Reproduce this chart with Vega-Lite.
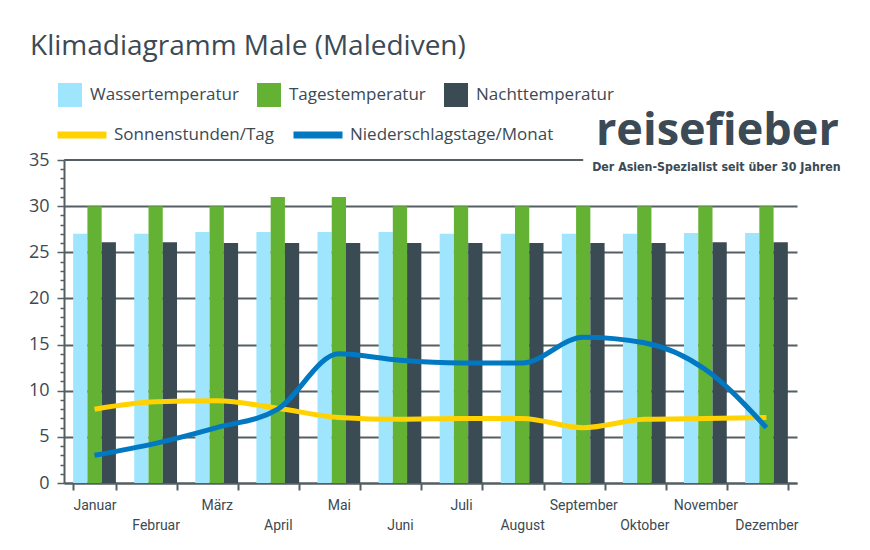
{
  "$schema": "https://vega.github.io/schema/vega-lite/v6.json",
  "width": 733,
  "height": 323,
  "autosize": "none",
  "padding": {"left": 64, "top": 160, "right": 73, "bottom": 67},
  "background": "white",
  "title": {
    "text": "Klimadiagramm Male (Malediven)",
    "anchor": "start",
    "frame": "group",
    "dx": -34,
    "dy": -18,
    "fontSize": 28,
    "font": "Open Sans",
    "fontWeight": "normal",
    "color": "#3b4a54"
  },
  "config": {"view": {"stroke": null}},
  "datasets": {
    "bars": [
      {"month": "Januar", "series": "Wassertemperatur", "value": 27},
      {"month": "Februar", "series": "Wassertemperatur", "value": 27},
      {"month": "März", "series": "Wassertemperatur", "value": 27.2},
      {"month": "April", "series": "Wassertemperatur", "value": 27.2},
      {"month": "Mai", "series": "Wassertemperatur", "value": 27.2},
      {"month": "Juni", "series": "Wassertemperatur", "value": 27.2},
      {"month": "Juli", "series": "Wassertemperatur", "value": 27},
      {"month": "August", "series": "Wassertemperatur", "value": 27},
      {"month": "September", "series": "Wassertemperatur", "value": 27},
      {"month": "Oktober", "series": "Wassertemperatur", "value": 27},
      {"month": "November", "series": "Wassertemperatur", "value": 27.1},
      {"month": "Dezember", "series": "Wassertemperatur", "value": 27.1},
      {"month": "Januar", "series": "Tagestemperatur", "value": 30},
      {"month": "Februar", "series": "Tagestemperatur", "value": 30},
      {"month": "März", "series": "Tagestemperatur", "value": 30},
      {"month": "April", "series": "Tagestemperatur", "value": 31},
      {"month": "Mai", "series": "Tagestemperatur", "value": 31},
      {"month": "Juni", "series": "Tagestemperatur", "value": 30},
      {"month": "Juli", "series": "Tagestemperatur", "value": 30},
      {"month": "August", "series": "Tagestemperatur", "value": 30},
      {"month": "September", "series": "Tagestemperatur", "value": 30},
      {"month": "Oktober", "series": "Tagestemperatur", "value": 30},
      {"month": "November", "series": "Tagestemperatur", "value": 30},
      {"month": "Dezember", "series": "Tagestemperatur", "value": 30},
      {"month": "Januar", "series": "Nachttemperatur", "value": 26.1},
      {"month": "Februar", "series": "Nachttemperatur", "value": 26.1},
      {"month": "März", "series": "Nachttemperatur", "value": 26},
      {"month": "April", "series": "Nachttemperatur", "value": 26},
      {"month": "Mai", "series": "Nachttemperatur", "value": 26},
      {"month": "Juni", "series": "Nachttemperatur", "value": 26},
      {"month": "Juli", "series": "Nachttemperatur", "value": 26},
      {"month": "August", "series": "Nachttemperatur", "value": 26},
      {"month": "September", "series": "Nachttemperatur", "value": 26},
      {"month": "Oktober", "series": "Nachttemperatur", "value": 26},
      {"month": "November", "series": "Nachttemperatur", "value": 26.1},
      {"month": "Dezember", "series": "Nachttemperatur", "value": 26.1}
    ],
    "lines": [
      {"month": "Januar", "series": "Sonnenstunden/Tag", "value": 8},
      {"month": "Februar", "series": "Sonnenstunden/Tag", "value": 8.8},
      {"month": "März", "series": "Sonnenstunden/Tag", "value": 8.9},
      {"month": "April", "series": "Sonnenstunden/Tag", "value": 8.1},
      {"month": "Mai", "series": "Sonnenstunden/Tag", "value": 7.1},
      {"month": "Juni", "series": "Sonnenstunden/Tag", "value": 6.9},
      {"month": "Juli", "series": "Sonnenstunden/Tag", "value": 7},
      {"month": "August", "series": "Sonnenstunden/Tag", "value": 7},
      {"month": "September", "series": "Sonnenstunden/Tag", "value": 6},
      {"month": "Oktober", "series": "Sonnenstunden/Tag", "value": 6.9},
      {"month": "November", "series": "Sonnenstunden/Tag", "value": 7},
      {"month": "Dezember", "series": "Sonnenstunden/Tag", "value": 7.1},
      {"month": "Januar", "series": "Niederschlagstage/Monat", "value": 3},
      {"month": "Februar", "series": "Niederschlagstage/Monat", "value": 4.3},
      {"month": "März", "series": "Niederschlagstage/Monat", "value": 6},
      {"month": "April", "series": "Niederschlagstage/Monat", "value": 8},
      {"month": "Mai", "series": "Niederschlagstage/Monat", "value": 14},
      {"month": "Juni", "series": "Niederschlagstage/Monat", "value": 13.3},
      {"month": "Juli", "series": "Niederschlagstage/Monat", "value": 13},
      {"month": "August", "series": "Niederschlagstage/Monat", "value": 13},
      {"month": "September", "series": "Niederschlagstage/Monat", "value": 15.8},
      {"month": "Oktober", "series": "Niederschlagstage/Monat", "value": 15.2},
      {"month": "November", "series": "Niederschlagstage/Monat", "value": 12.3},
      {"month": "Dezember", "series": "Niederschlagstage/Monat", "value": 6}
    ]
  },
  "encoding": {
    "x": {
      "field": "month",
      "type": "nominal",
      "sort": null,
      "scale": {"domain": ["Januar","Februar","März","April","Mai","Juni","Juli","August","September","Oktober","November","Dezember"], "paddingInner": 0.3, "paddingOuter": 0.15},
      "axis": {
        "title": null,
        "labelAngle": 0,
        "domainColor": "#555e63",
        "domainWidth": 2,
        "tickBand": "extent",
        "tickColor": "#555e63",
        "tickWidth": 2,
        "tickSize": 7,
        "labelFont": "Roboto",
        "labelFontSize": 14,
        "labelColor": "#3b4a54",
        "labelBaseline": "top",
        "labelOverlap": false,
        "labelPadding": {"condition": {"test": "indexof(['Februar','April','Juni','August','Oktober','Dezember'], datum.value) >= 0", "value": 28}, "value": 8}
      }
    },
    "y": {
      "field": "value",
      "type": "quantitative",
      "scale": {"domain": [0, 35], "nice": false, "zero": true},
      "axis": {
        "title": null,
        "values": [0,1,2,3,4,5,6,7,8,9,10,11,12,13,14,15,16,17,18,19,20,21,22,23,24,25,26,27,28,29,30,31,32,33,34,35],
        "labelExpr": "datum.value % 5 == 0 ? datum.label : ''",
        "labelOverlap": false,
        "labelBound": false,
        "grid": true,
        "gridColor": "#555e63",
        "gridWidth": 2,
        "gridOpacity": {"condition": {"test": "datum.value % 5 != 0 || datum.value == 35", "value": 0}, "value": 1},
        "tickColor": "#555e63",
        "tickSize": {"condition": {"test": "datum.value % 5 == 0", "value": 7}, "value": 4},
        "tickWidth": 1.5,
        "domainColor": "#555e63",
        "domainWidth": 2,
        "labelFont": "Open Sans",
        "labelFontSize": 18,
        "labelColor": "#3b4a54",
        "labelPadding": 8
      }
    }
  },
  "layer": [
    {
      "data": {"name": "bars"},
      "mark": {"type": "bar"},
      "encoding": {
        "xOffset": {"field": "series", "type": "nominal", "sort": ["Wassertemperatur","Tagestemperatur","Nachttemperatur"]},
        "fill": {
          "field": "series",
          "type": "nominal",
          "scale": {"domain": ["Wassertemperatur","Tagestemperatur","Nachttemperatur"], "range": ["#9fe5fd","#63b233","#3a4b54"]},
          "legend": {
            "title": null,
            "orient": "none",
            "legendX": -6,
            "legendY": -77,
            "direction": "horizontal",
            "symbolType": "square",
            "symbolSize": 576,
            "symbolStrokeWidth": 0,
            "labelFont": "Open Sans",
            "labelFontSize": 17,
            "labelColor": "#3b4a54",
            "labelOffset": 8,
            "labelLimit": 300,
            "columnPadding": 18,
            "padding": 0
          }
        }
      }
    },
    {
      "data": {"values": [{"value": 35, "month": "Januar", "to": "September"}]},
      "mark": {"type": "rule", "color": "#555e63", "strokeWidth": 2},
      "encoding": {
        "x": {"field": "month", "type": "nominal", "sort": null, "bandPosition": -0.21},
        "x2": {"field": "to"}
      }
    },
    {
      "data": {"name": "lines"},
      "mark": {"type": "line", "strokeWidth": 5, "interpolate": "monotone"},
      "encoding": {
        "stroke": {
          "field": "series",
          "type": "nominal",
          "scale": {"domain": ["Sonnenstunden/Tag","Niederschlagstage/Monat"], "range": ["#ffd200","#0078c2"]},
          "legend": {
            "title": null,
            "orient": "none",
            "legendX": -10,
            "legendY": -53,
            "direction": "horizontal",
            "symbolType": "stroke",
            "symbolSize": 2401,
            "symbolStrokeWidth": 7,
            "labelFont": "Open Sans",
            "labelFontSize": 17,
            "labelColor": "#3b4a54",
            "labelOffset": 4,
            "labelLimit": 400,
            "columnPadding": 4,
            "padding": 0
          }
        }
      }
    },
    {
      "data": {"values": [
        {"text": "reisefieber", "month": "November", "value": 36.6}
      ]},
      "mark": {"type": "text", "font": "Open Sans", "fontWeight": "bold", "fontSize": 45, "color": "#3b4a54", "align": "center", "baseline": "alphabetic", "dx": 12},
      "encoding": {
        "text": {"field": "text"}
      }
    },
    {
      "data": {"values": [
        {"text": "Der Asien-Spezialist seit über 30 Jahren", "month": "November", "value": 33.8}
      ]},
      "mark": {"type": "text", "font": "DejaVu Sans Condensed", "fontWeight": "bold", "fontSize": 12.3, "color": "#3b4a54", "align": "center", "baseline": "alphabetic", "dx": 11},
      "encoding": {
        "text": {"field": "text"}
      }
    }
  ]
}
